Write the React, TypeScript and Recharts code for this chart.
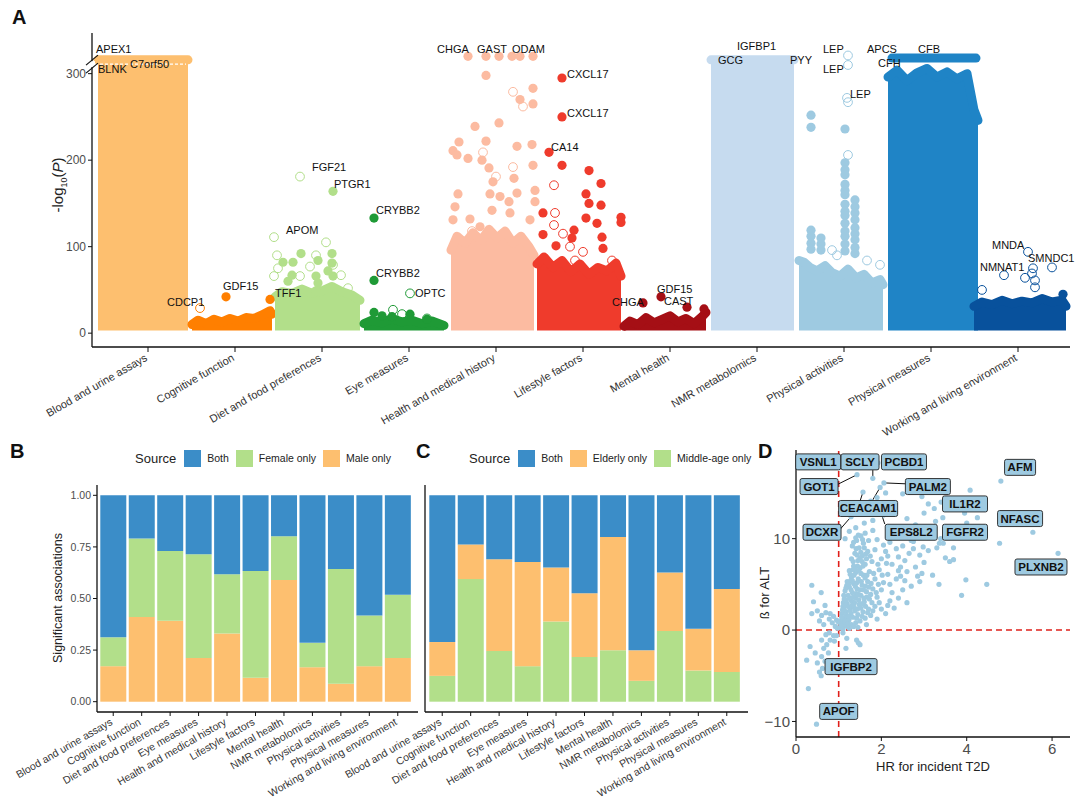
import React from 'react'
import {
  ComposedChart, Area, Line, Scatter, XAxis, YAxis, ReferenceDot,
  BarChart, Bar, ScatterChart, ReferenceLine,
} from 'recharts'

const FONT = '"Liberation Sans", Arial, Helvetica, sans-serif'

const categories = [
  'Blood and urine assays', 'Cognitive function', 'Diet and food preferences', 'Eye measures',
  'Health and medical history', 'Lifestyle factors', 'Mental health', 'NMR metabolomics',
  'Physical activities', 'Physical measures', 'Working and living environment',
]
const catColors = [
  '#fdbf6f', '#ff7f00', '#b2df8a', '#1f9a36', '#fcbba1', '#ef3b2c',
  '#a50f15', '#c6dbef', '#9ecae1', '#1f84c6', '#08519c',
]
const catTicks = [56, 143, 230, 317, 404, 491, 578, 665, 752, 839, 926]

// upper edge of the dense point cloud of each category: [rank, -log10 P]
const bodyBlood = [[6, 316], [96, 316]]
const bodyCognitive = [[100, 10], [106, 15], [114, 11], [122, 16], [130, 13], [138, 17], [146, 14], [154, 18], [162, 17], [170, 21], [178, 26], [180, 22]]
const bodyDiet = [[183, 42], [190, 48], [200, 46], [210, 51], [220, 46], [230, 49], [240, 54], [250, 48], [260, 44], [268, 38]]
const bodyEye = [[272, 11], [280, 15], [290, 12], [300, 17], [310, 13], [320, 15], [330, 11], [340, 14], [352, 9]]
const bodyHealth = [[359, 96], [365, 112], [373, 104], [381, 116], [389, 107], [397, 120], [405, 110], [413, 118], [421, 104], [429, 112], [437, 100], [442, 90]]
const bodyLifestyle = [[445, 80], [452, 88], [461, 76], [470, 84], [479, 71], [488, 80], [497, 68], [506, 76], [515, 72], [524, 81], [529, 66]]
const bodyMental = [[532, 8], [538, 14], [546, 10], [554, 18], [562, 12], [570, 16], [578, 20], [586, 13], [594, 17], [602, 11], [610, 19], [614, 24]]
const bodyNmr = [[619, 316], [702, 316]]
const bodyActivity = [[707, 84], [712, 82], [718, 76], [725, 72], [733, 78], [740, 70], [748, 66], [756, 74], [764, 64], [772, 68], [780, 58], [788, 62], [791, 56]]
const bodyMeasures = [[796, 296], [805, 304], [815, 292], [825, 301], [835, 306], [845, 296], [855, 302], [865, 294], [875, 300], [882, 258], [886, 246]]
const bodyWorking = [[882, 31], [890, 36], [900, 33], [910, 38], [920, 34], [930, 37], [940, 35], [950, 40], [960, 36], [970, 38], [974, 31]]
const bodies = [bodyBlood, bodyCognitive, bodyDiet, bodyEye, bodyHealth, bodyLifestyle, bodyMental, bodyNmr, bodyActivity, bodyMeasures, bodyWorking]
const capMeasures = [[800, 318], [884, 318]]

// single proteins above the cloud: [category, rank, -log10 P]
const aFilled = [
  [1, 134, 42], [1, 178, 39],
  [2, 209, 92], [2, 201, 82], [2, 191, 82], [2, 200, 67], [2, 226, 84], [2, 240, 92], [2, 240, 81], [2, 224, 66],
  [2, 241, 66], [2, 226, 58], [2, 224, 49], [2, 241, 164], [2, 196, 60], [2, 236, 72],
  [3, 282, 133], [3, 282, 61], [3, 282, 24], [3, 318, 22], [3, 300, 19], [3, 290, 20], [3, 335, 16],
  [4, 376, 320], [4, 394, 320], [4, 407, 320], [4, 420, 320], [4, 428, 320], [4, 441, 320],
  [4, 394, 298], [4, 428, 270], [4, 441, 265], [4, 441, 283], [4, 383, 239], [4, 407, 243], [4, 367, 221],
  [4, 361, 211], [4, 365, 206], [4, 376, 202], [4, 394, 222], [4, 390, 200], [4, 397, 191], [4, 401, 175],
  [4, 425, 216], [4, 440, 218], [4, 441, 194], [4, 422, 179], [4, 425, 162], [4, 417, 152], [4, 398, 161],
  [4, 408, 158], [4, 366, 161], [4, 363, 146], [4, 361, 131], [4, 378, 132], [4, 400, 142], [4, 418, 139],
  [4, 438, 131], [4, 388, 123], [4, 443, 152], [4, 443, 165],
  [5, 470, 295], [5, 470, 250], [5, 457, 209], [5, 470, 194], [5, 497, 188], [5, 509, 173], [5, 494, 161],
  [5, 497, 150], [5, 509, 148], [5, 529, 134], [5, 451, 139], [5, 451, 114], [5, 482, 119], [5, 494, 133],
  [5, 505, 127], [5, 510, 111], [5, 511, 98], [5, 464, 101], [5, 480, 110], [5, 529, 128],
  [6, 551, 35], [6, 569, 42], [6, 595, 30], [6, 612, 28],
  [8, 753, 197], [8, 753, 189], [8, 753, 183], [8, 753, 172], [8, 753, 165], [8, 753, 160], [8, 753, 149],
  [8, 753, 141], [8, 753, 136], [8, 753, 127], [8, 753, 118], [8, 753, 112], [8, 753, 103], [8, 753, 95],
  [8, 753, 236], [8, 763, 154], [8, 763, 146], [8, 763, 139], [8, 763, 131], [8, 763, 122], [8, 763, 115],
  [8, 763, 108], [8, 763, 99], [8, 763, 92], [8, 719, 252], [8, 719, 238], [8, 719, 119], [8, 719, 112],
  [8, 719, 104], [8, 719, 97], [8, 729, 110], [8, 729, 103], [8, 729, 96],
  [10, 971, 45],
]
const aOpen = [
  [1, 108, 29],
  [2, 234, 105], [2, 224, 90], [2, 185, 90], [2, 186, 75], [2, 218, 77], [2, 241, 79], [2, 249, 67],
  [2, 182, 66], [2, 208, 66], [2, 256, 52], [2, 208, 181], [2, 182, 111],
  [3, 318, 46], [3, 301, 27], [3, 335, 17], [3, 310, 22],
  [4, 421, 279], [4, 431, 262], [4, 391, 209], [4, 404, 181], [4, 421, 192], [4, 380, 118],
  [5, 462, 171], [5, 463, 139], [5, 462, 125], [5, 471, 115], [5, 483, 84], [5, 491, 94], [5, 520, 84], [5, 478, 100],
  [8, 756, 321], [8, 756, 310], [8, 755, 272], [8, 756, 267], [8, 756, 206], [8, 740, 96], [8, 775, 84],
  [8, 788, 79], [8, 745, 90],
  [10, 936, 94], [10, 912, 67], [10, 960, 76], [10, 941, 75], [10, 940, 69], [10, 933, 64], [10, 943, 61],
  [10, 943, 53], [10, 890, 50],
]
// gene labels: [text, rank at left edge, -log10 P]
const aLabels = [
  ['APEX1', 4, 329], ['BLNK', 6, 305], ['C7orf50', 38, 311], ['CDCP1', 75, 36], ['GDF15', 131, 54],
  ['TFF1', 183, 46], ['APOM', 194, 119], ['FGF21', 220, 192], ['PTGR1', 242, 173], ['CRYBB2', 284, 142],
  ['CRYBB2', 284, 69], ['OPTC', 323, 47], ['CHGA', 345, 328], ['GAST', 385, 328], ['ODAM', 420, 328],
  ['CXCL17', 475, 300], ['CXCL17', 475, 255], ['CA14', 459, 215], ['CHGA', 520, 36], ['GDF15', 565, 51],
  ['CAST', 572, 37], ['IGFBP1', 645, 332], ['GCG', 626, 316], ['PYY', 698, 316], ['LEP', 731, 328],
  ['LEP', 731, 305], ['LEP', 758, 277], ['APCS', 775, 328], ['CFB', 826, 328], ['CFH', 786, 312],
  ['MNDA', 900, 102], ['NMNAT1', 888, 77], ['SMNDC1', 936, 87],
]

// B: sex-specific shares
const bMale = [0.172, 0.41, 0.392, 0.212, 0.33, 0.116, 0.59, 0.167, 0.087, 0.172, 0.212]
const bFemale = [0.14, 0.381, 0.338, 0.503, 0.287, 0.517, 0.212, 0.118, 0.556, 0.246, 0.306]
const bBoth = [0.688, 0.209, 0.27, 0.285, 0.383, 0.367, 0.198, 0.715, 0.357, 0.582, 0.482]
// C: age-specific shares
const cMiddle = [0.125, 0.594, 0.246, 0.172, 0.388, 0.217, 0.249, 0.101, 0.342, 0.151, 0.144]
const cElderly = [0.164, 0.168, 0.444, 0.505, 0.262, 0.308, 0.549, 0.148, 0.284, 0.202, 0.402]
const cBoth = [0.711, 0.238, 0.31, 0.323, 0.35, 0.475, 0.202, 0.751, 0.374, 0.647, 0.454]
const shareTicks = [0, 0.25, 0.5, 0.75, 1]

const BLUE = '#3b8dc8'
const GREEN = '#b2df8a'
const ORANGE = '#fdbf6f'

// D: HR for T2D vs beta for ALT
const dPoints = [
  [1.04, 0.3], [1.12, 0.5], [1.2, 0.4], [1.3, 0.6], [1.4, 0.8], [1.5, 1.0], [1.62, 1.3], [1.75, 1.6],
  [1.06, 1.0], [1.15, 1.2], [1.24, 1.1], [1.33, 1.4], [1.45, 1.7], [1.57, 2.0], [1.7, 2.3], [1.85, 2.6],
  [1.08, 1.8], [1.18, 2.0], [1.27, 2.2], [1.36, 2.5], [1.48, 2.8], [1.6, 3.1], [1.72, 3.4], [1.9, 3.6],
  [1.1, 2.6], [1.2, 2.9], [1.3, 3.2], [1.4, 3.5], [1.52, 3.8], [1.65, 4.2], [1.8, 4.5], [2.0, 4.4],
  [1.13, 3.4], [1.22, 3.8], [1.32, 4.1], [1.43, 4.5], [1.55, 4.9], [1.68, 5.3], [1.85, 5.6], [2.05, 5.2],
  [1.15, 4.3], [1.25, 4.7], [1.35, 5.1], [1.46, 5.6], [1.58, 6.0], [1.72, 6.4], [1.95, 6.6], [2.15, 6.1],
  [1.2, 5.3], [1.3, 5.8], [1.4, 6.3], [1.5, 6.8], [1.62, 7.2], [1.78, 7.5], [2.0, 7.8], [2.25, 7.2],
  [1.25, 6.5], [1.35, 7.0], [1.45, 7.6], [1.55, 8.1], [1.68, 8.6], [1.85, 8.8], [2.1, 8.6], [2.4, 8.0],
  [1.3, 7.8], [1.38, 8.4], [1.48, 9.0], [1.58, 9.5], [1.7, 9.8], [1.9, 9.9], [2.2, 9.6], [2.5, 9.2],
  [1.32, 9.2], [1.42, 9.8], [1.52, 10.3], [1.62, 10.6], [1.8, 10.9], [2.3, 10.5], [2.7, 9.8],
  [1.1, 0.1], [1.25, 0.2], [1.45, 0.3], [1.65, 0.6], [1.9, 1.2], [2.1, 1.8], [2.3, 2.4], [2.2, 3.2],
  [2.4, 3.5], [2.6, 3.0], [2.5, 4.4], [2.7, 4.8], [2.9, 5.3], [2.35, 5.6], [2.6, 6.4], [2.8, 6.9],
  [3.0, 7.4], [2.45, 6.9], [2.9, 8.2], [3.1, 8.7], [2.75, 8.9], [3.3, 9.0],
  [1.09, 0.7], [1.17, 1.6], [1.29, 1.8], [1.38, 2.1], [1.52, 2.4], [1.63, 2.6], [1.11, 3.0], [1.26, 3.5],
  [1.37, 3.0], [1.47, 3.3], [1.58, 4.4], [1.75, 3.9], [1.19, 4.9], [1.28, 5.4], [1.41, 4.0], [1.53, 5.3],
  [1.62, 5.7], [1.36, 6.0], [1.44, 7.0], [1.33, 6.6], [1.55, 7.5], [1.41, 8.9], [1.52, 8.5], [1.6, 9.0],
  [1.05, 0.6], [1.14, 0.9], [1.22, 0.7], [1.35, 0.4], [1.42, 1.3], [1.55, 1.5], [1.68, 1.9], [1.8, 2.1],
  [1.07, 1.4], [1.13, 2.3], [1.23, 1.5], [1.31, 2.7], [1.44, 2.3], [1.56, 2.9], [1.66, 3.6], [1.78, 3.0],
  [1.09, 2.2], [1.16, 2.7], [1.25, 2.5], [1.34, 3.6], [1.46, 3.9], [1.59, 3.5], [1.71, 4.7], [1.88, 4.1],
  [1.12, 3.8], [1.18, 3.3], [1.29, 4.4], [1.39, 4.8], [1.5, 4.4], [1.63, 4.8], [1.76, 5.1], [1.93, 5.0],
  [1.17, 4.6], [1.23, 5.0], [1.32, 5.4], [1.43, 5.2], [1.52, 6.2], [1.66, 6.0], [1.82, 6.2], [2.02, 6.0],
  [1.27, 6.1], [1.38, 6.7], [1.47, 6.5], [1.57, 7.0], [1.65, 7.8], [1.74, 8.1], [1.92, 7.2], [2.12, 7.3],
  [1.34, 7.5], [1.43, 8.2], [1.5, 7.9], [1.63, 8.3], [1.35, 9.6], [1.46, 10.4], [1.56, 9.9], [1.4, 10.1],
  [2.0, 2.3], [1.95, 3.0], [2.15, 2.7], [2.25, 4.1], [2.55, 5.4], [2.95, 6.2], [3.2, 6.0], [3.35, 5.0],
  [2.85, 5.9], [3.6, 7.5], [3.69, 7.7], [3.45, 9.5], [3.25, 10.2], [3.05, 11.0], [2.8, 11.5], [2.6, 12.2],
  [3.0, 12.8], [3.24, 13.3], [3.44, 12.3], [3.27, 11.9], [3.1, 13.8], [2.95, 14.6], [2.5, 14.9], [2.3, 13.7],
  [2.05, 12.6], [1.8, 12.0], [1.6, 11.7], [1.4, 11.2], [1.25, 10.8], [1.15, 10.0], [1.6, 12.7], [1.9, 14.5],
  [2.1, 15.0], [1.75, 14.1], [2.75, 9.7], [2.98, 9.1], [3.36, 9.5], [3.69, 9.0], [3.39, 10.0],
  [2.2, 5.0], [2.45, 5.9], [2.15, 8.1], [2.35, 8.9], [2.05, 9.3], [2.55, 7.6], [2.65, 8.4], [2.4, 6.5],
  [3.88, 3.8], [3.98, 5.5], [4.47, 5.0], [4.0, 11.7], [4.25, 12.3], [4.08, 15.3], [3.65, 10.4], [4.77, 9.5],
  [3.95, 12.8], [3.4, 14.0], [3.5, 7.9],
  [4.8, 16.3], [5.55, 10.7], [6.14, 8.4], [2.06, 16.1], [1.8, 16.6], [1.43, 17.0], [1.92, 18.3], [1.57, 15.1],
  [1.97, 15.6], [1.98, 13.0], [1.29, 12.4],
  [0.37, 4.9], [0.41, 3.1], [0.5, 2.1], [0.59, 4.1], [0.6, 1.6], [0.7, 1.9], [0.78, 1.2], [0.85, 0.8],
  [0.92, 0.4], [0.97, 0.2], [0.37, 1.8], [0.55, 1.0], [0.65, 0.6], [0.68, 2.7], [0.88, 1.5], [0.95, 1.1],
  [0.8, 1.8], [0.99, 0.9],
  [0.33, -1.8], [0.45, -2.5], [0.6, -2.9], [0.8, -1.1], [0.88, -0.6], [0.6, -1.1], [0.25, -3.3], [0.76, -2.5],
  [0.7, -0.5], [0.78, -0.3], [0.5, -3.6], [0.65, -2.0], [0.72, -1.6], [0.55, -4.6], [0.62, -4.2], [0.68, -3.4],
  [0.59, -5.0], [0.29, -6.4], [0.48, -10.3], [0.9, -1.2], [0.95, -0.6],
  [1.19, -0.9], [1.42, -1.1], [1.5, -1.6], [1.17, -2.0], [1.1, -0.3], [1.46, -1.4],
]
// boxed labels: [text, HR, beta] at box centre
const dLabels = [
  ['VSNL1', 0.52, 18.4], ['SCLY', 1.5, 18.4], ['PCBD1', 2.53, 18.4], ['GOT1', 0.54, 15.7],
  ['PALM2', 3.09, 15.7], ['IL1R2', 3.96, 13.8], ['CEACAM1', 1.69, 13.3], ['AFM', 5.25, 17.8],
  ['NFASC', 5.25, 12.2], ['DCXR', 0.61, 10.7], ['EPS8L2', 2.7, 10.7], ['FGFR2', 3.96, 10.7],
  ['PLXNB2', 5.74, 6.9], ['IGFBP2', 1.29, -4.0], ['APOF', 1.0, -8.9],
]
// leader lines from box to point: [x1, y1, x2, y2]
const dLinks = [
  [0.96, 15.9, 1.43, 17.0], [1.8, 17.5, 1.8, 16.6], [2.58, 16.0, 2.06, 16.1],
  [1.5, 14.1, 1.57, 15.1], [1.78, 14.1, 1.97, 15.6], [2.08, 11.6, 1.98, 13.0], [1.03, 11.0, 1.29, 12.4],
]

const rotTick = (labelOf: (v: any) => string, size: number) => (p: any) => {
  const { x, y, payload } = p
  return (
    <text x={x} y={y + 6} textAnchor="end" fontSize={size} fill="#333"
      transform={`rotate(-30 ${x} ${y + 6})`}>{labelOf(payload.value)}</text>
  )
}

const axisStyle = { stroke: '#111', strokeWidth: 1.3 }

function PanelA() {
  const filled = aFilled.map(([c, x, y]) => ({ x, y, c }))
  const open = aOpen.map(([c, x, y]) => ({ x, y, c }))
  const labels = aLabels.map(([t, x, y]) => ({ x, y, t }))
  return (
    <ComposedChart width={1080} height={440} margin={{ top: 33, right: 10, bottom: 3, left: 52 }}>
      <XAxis type="number" dataKey="x" domain={[0, 978]} ticks={catTicks} interval={0} height={90}
        axisLine={axisStyle} tickLine={{ stroke: '#111' }} tickSize={5}
        tick={rotTick((v) => categories[catTicks.indexOf(v)], 11)} />
      <YAxis type="number" dataKey="y" domain={[-16, 347]} ticks={[0, 100, 200, 300]} width={40}
        axisLine={axisStyle} tickLine={{ stroke: '#111' }} tickSize={4}
        tick={{ fontSize: 12, fill: '#4d4d4d' }} />
      {bodies.map((b, i) => (
        <Area key={i} data={b.map(([x, y]) => ({ x, y }))} dataKey="y" type="linear" baseValue={3}
          fill={catColors[i]} fillOpacity={1} stroke={catColors[i]} strokeWidth={9}
          strokeLinejoin="round" strokeLinecap="round" dot={false} activeDot={false}
          isAnimationActive={false} />
      ))}
      <Line data={capMeasures.map(([x, y]) => ({ x, y }))} dataKey="y" stroke={catColors[9]} strokeWidth={9}
        strokeLinecap="round" dot={false} activeDot={false} isAnimationActive={false} />
      <Line data={[{ x: 8, y: 311 }, { x: 94, y: 311 }]} dataKey="y" stroke="#fff" strokeWidth={1.2}
        strokeDasharray="3 2" dot={false} activeDot={false} isAnimationActive={false} />
      <Scatter data={filled} isAnimationActive={false}
        shape={(p: any) => <circle cx={p.cx} cy={p.cy} r={4.6} fill={catColors[p.payload.c]} />} />
      <Scatter data={open} isAnimationActive={false}
        shape={(p: any) => <circle cx={p.cx} cy={p.cy} r={4.4} fill="none" stroke={catColors[p.payload.c]} strokeWidth={1} />} />
      <Scatter data={labels} isAnimationActive={false}
        shape={(p: any) => (
          <text x={p.cx} y={p.cy} dominantBaseline="central" fontSize={11} fill="#111">{p.payload.t}</text>
        )} />
      <ReferenceDot x={0} y={311} r={0} ifOverflow="visible"
        shape={(p: any) => (
          <g>
            <rect x={p.cx - 3} y={p.cy - 3} width={6} height={6} fill="#fff" />
            <line x1={p.cx - 6} y1={p.cy + 1} x2={p.cx + 6} y2={p.cy - 9} stroke="#111" strokeWidth={1.2} />
            <line x1={p.cx - 6} y1={p.cy + 9} x2={p.cx + 6} y2={p.cy - 1} stroke="#111" strokeWidth={1.2} />
          </g>
        )} />
    </ComposedChart>
  )
}

function ShareChart({ rows, keys, colors, width, margin, padding, yLabels }: any) {
  return (
    <BarChart width={width} height={364} data={rows} barCategoryGap={1.3} margin={margin}>
      <XAxis dataKey="cat" interval={0} height={90} padding={padding}
        axisLine={axisStyle} tickLine={{ stroke: '#111' }} tickSize={4}
        tick={rotTick((v) => v, 10.5)} />
      <YAxis type="number" domain={[-0.05, 1.05]} ticks={shareTicks} width={yLabels ? 32 : 8}
        axisLine={axisStyle} tickLine={{ stroke: '#111' }} tickSize={4}
        tick={yLabels ? { fontSize: 10.5, fill: '#4d4d4d' } : false}
        tickFormatter={(v: number) => v.toFixed(2)} />
      {keys.map((k: string, i: number) => (
        <Bar key={k} dataKey={k} stackId="s" fill={colors[i]} isAnimationActive={false} />
      ))}
    </BarChart>
  )
}

function LegendRow({ left, items }: any) {
  return (
    <div style={{ position: 'absolute', left, top: 449, height: 18, display: 'flex', alignItems: 'center', fontSize: 10.5, color: '#222' }}>
      <span style={{ fontSize: 13, marginRight: 8 }}>Source</span>
      {items.map(([label, color]: any) => (
        <span key={label} style={{ display: 'flex', alignItems: 'center', marginRight: 7 }}>
          <span style={{ width: 17, height: 17, background: color, marginRight: 6 }} />
          {label}
        </span>
      ))}
    </div>
  )
}

function PanelD() {
  const pts = dPoints.map(([x, y]) => ({ x, y }))
  const labs = dLabels.map(([t, x, y]) => ({ x, y, t }))
  return (
    <ScatterChart width={340} height={364} margin={{ top: 10, right: 10, bottom: 27, left: 16 }}>
      <XAxis type="number" dataKey="x" domain={[0, 6.42]} ticks={[0, 2, 4, 6]} height={40}
        axisLine={axisStyle} tickLine={{ stroke: '#111' }} tickSize={4}
        tick={{ fontSize: 15, fill: '#4d4d4d' }} />
      <YAxis type="number" dataKey="y" domain={[-11.7, 19.7]} ticks={[-10, 0, 10]} width={40}
        axisLine={axisStyle} tickLine={{ stroke: '#111' }} tickSize={4}
        tick={{ fontSize: 15, fill: '#4d4d4d' }}
        tickFormatter={(v: number) => (v < 0 ? '\u2212' + Math.abs(v) : String(v))} />
      <Scatter data={pts} isAnimationActive={false}
        shape={(p: any) => <circle cx={p.cx} cy={p.cy} r={2.6} fill="#9ecae1" />} />
      <ReferenceLine x={1} stroke="#e0201b" strokeWidth={1.6} strokeDasharray="6 4" />
      <ReferenceLine y={0} stroke="#e0201b" strokeWidth={1.6} strokeDasharray="6 4" />
      {dLinks.map(([x1, y1, x2, y2], i) => (
        <ReferenceLine key={i} segment={[{ x: x1, y: y1 }, { x: x2, y: y2 }]} stroke="#111" strokeWidth={1} />
      ))}
      <Scatter data={labs} isAnimationActive={false}
        shape={(p: any) => {
          const w = p.payload.t.length * 7 + 10
          return (
            <g>
              <rect x={p.cx - w / 2} y={p.cy - 8} width={w} height={16} rx={2} fill="#9ecae1" stroke="#222" strokeWidth={0.9} />
              <text x={p.cx} y={p.cy} dominantBaseline="central" textAnchor="middle" fontSize={11.5}
                fontWeight="bold" fill="#111">{p.payload.t}</text>
            </g>
          )
        }} />
    </ScatterChart>
  )
}

const letter = (t: string, left: number, top: number) => (
  <div style={{ position: 'absolute', left, top, fontSize: 20, fontWeight: 'bold', color: '#111' }}>{t}</div>
)

const vLabel = (content: any, cx: number, cy: number, size: number) => (
  <div style={{
    position: 'absolute', left: cx - 100, top: cy - 10, width: 200, height: 20, lineHeight: '20px',
    textAlign: 'center', fontSize: size, color: '#222', transform: 'rotate(-90deg)',
  }}>{content}</div>
)

export default function App() {
  const bRows = categories.map((cat, i) => ({ cat, male: bMale[i], female: bFemale[i], both: bBoth[i] }))
  const cRows = categories.map((cat, i) => ({ cat, middle: cMiddle[i], elderly: cElderly[i], both: cBoth[i] }))
  return (
    <div style={{ position: 'absolute', left: 0, top: 0, width: 1080, height: 804, background: '#fff', fontFamily: FONT, overflow: 'hidden' }}>
      <div style={{ position: 'absolute', left: 0, top: 0 }}><PanelA /></div>
      <div style={{ position: 'absolute', left: 0, top: 440 }}>
        <ShareChart rows={bRows} keys={['male', 'female', 'both']} colors={[ORANGE, GREEN, BLUE]}
          width={420} margin={{ top: 45, right: 2, bottom: 2, left: 65 }} padding={{ left: 2, right: 6 }} yLabels />
      </div>
      <div style={{ position: 'absolute', left: 300, top: 440 }}>
        <ShareChart rows={cRows} keys={['middle', 'elderly', 'both']} colors={[GREEN, ORANGE, BLUE]}
          width={450} margin={{ top: 45, right: 2, bottom: 2, left: 117 }} padding={{ left: 3, right: 7 }} />
      </div>
      <div style={{ position: 'absolute', left: 740, top: 440 }}><PanelD /></div>
      <LegendRow left={135} items={[['Both', BLUE], ['Female only', GREEN], ['Male only', ORANGE]]} />
      <LegendRow left={469} items={[['Both', BLUE], ['Elderly only', ORANGE], ['Middle-age only', GREEN]]} />
      {letter('A', 12, 6)}
      {letter('B', 10, 440)}
      {letter('C', 416, 440)}
      {letter('D', 758, 440)}
      {vLabel(<span>-log<sub style={{ fontSize: 9 }}>10</sub>(<i>P</i>)</span>, 58, 185, 15)}
      {vLabel('Significant associations', 58, 598, 12.5)}
      {vLabel('\u00df for ALT', 765, 593, 13)}
      <div style={{ position: 'absolute', left: 833, top: 759, width: 200, textAlign: 'center', fontSize: 13, color: '#222' }}>
        HR for incident T2D
      </div>
    </div>
  )
}
